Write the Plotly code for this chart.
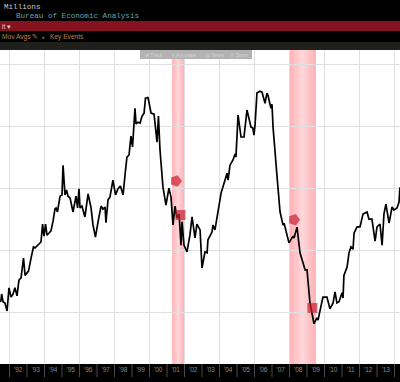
import plotly.graph_objects as go

W, H = 400, 382
TOP, BOTTOM = 50, 18

year_labels = ["'%02d" % (y % 100) for y in range(1991, 2015)]
label_years = list(range(1991, 2015))
grid_years = list(range(1992, 2016, 2))
grid_values = [10, 12, 14, 16, 18]
recessions = [(2001.29, 2001.97), (2007.97, 2009.51)]

dates = [
 1991.46,1991.51,1991.55,1991.63,1991.74,1991.86,1991.97,1992.09,1992.20,1992.31,1992.43,1992.54,1992.66,1992.80,1992.89,
 1993.00,1993.09,1993.23,1993.37,1993.46,1993.57,1993.69,1993.80,1993.89,1993.97,1994.06,1994.14,1994.26,1994.37,1994.49,
 1994.60,1994.66,1994.74,1994.89,1995.00,1995.06,1995.17,1995.26,1995.34,1995.46,1995.63,1995.80,1995.89,1995.97,1996.03,
 1996.14,1996.31,1996.49,1996.66,1996.77,1996.91,1997.06,1997.23,1997.34,1997.46,1997.51,1997.63,1997.74,1997.91,1998.06,
 1998.20,1998.34,1998.49,1998.60,1998.71,1998.83,1998.94,1999.03,1999.17,1999.23,1999.34,1999.46,1999.57,1999.69,1999.77,
 1999.86,1999.91,2000.09,2000.26,2000.43,2000.51,2000.60,2000.77,2000.94,2001.11,2001.23,2001.34,2001.46,2001.57,2001.69,
 2001.80,2001.86,2001.97,2002.14,2002.31,2002.43,2002.60,2002.71,2002.89,2003.00,2003.17,2003.29,2003.34,2003.57,2003.63,
 2003.74,2003.91,2004.09,2004.26,2004.43,2004.49,2004.60,2004.77,2004.89,2004.94,2005.06,2005.23,2005.40,2005.57,2005.80,
 2005.91,2005.97,2006.03,2006.14,2006.31,2006.43,2006.60,2006.71,2006.77,2006.94,2007.00,2007.06,2007.29,2007.46,2007.63,
 2007.69,2007.97,2008.20,2008.26,2008.43,2008.60,2008.71,2008.89,2009.00,2009.17,2009.40,2009.57,2009.63,2009.91,2010.14,
 2010.31,2010.49,2010.60,2010.71,2010.83,2011.00,2011.06,2011.11,2011.29,2011.40,2011.51,2011.63,2011.69,2011.86,2012.03,
 2012.20,2012.43,2012.54,2012.71,2012.89,2013.00,2013.17,2013.29,2013.40,2013.51,2013.69,2013.86,2013.97,2014.14,2014.26,
 2014.31,
]
sales = [
 10.35,10.38,10.60,10.35,10.31,10.05,10.80,10.50,10.60,10.80,10.54,11.05,11.12,11.76,11.20,
 11.30,11.35,11.76,12.12,12.09,12.15,12.20,12.28,12.86,12.47,12.86,12.50,12.57,12.64,12.96,
 13.35,13.38,13.25,13.76,13.80,14.76,13.80,13.96,13.76,13.70,13.25,13.76,13.38,14.00,13.38,
 13.44,13.09,13.83,13.38,12.83,12.44,12.93,13.44,13.34,13.41,12.90,13.64,13.73,14.28,13.80,
 14.00,14.09,13.80,14.44,15.02,15.09,15.70,15.35,16.60,16.09,16.15,16.12,16.34,16.44,16.93,
 16.93,16.96,16.44,16.41,15.50,16.35,15.25,14.05,13.47,14.02,13.73,12.83,13.44,13.05,13.18,
 12.18,12.93,12.18,11.96,12.50,13.09,12.41,12.86,12.67,11.44,11.96,11.93,12.35,12.60,12.83,
 12.67,13.31,13.86,14.18,14.50,14.28,14.76,14.93,15.12,15.02,16.38,15.67,15.67,16.54,15.99,
 15.96,15.73,16.05,17.09,17.15,17.12,16.76,17.09,17.02,16.60,16.73,15.99,14.38,13.25,12.83,
 12.89,12.25,12.47,12.41,12.76,11.93,11.70,11.38,11.38,10.31,9.64,9.83,9.76,10.50,10.50,
 10.12,10.31,10.67,10.31,10.35,10.64,10.47,11.20,11.47,11.93,12.12,12.05,12.57,12.77,12.77,
 13.18,13.25,13.02,13.02,12.31,12.77,12.86,12.18,13.20,13.50,12.89,13.41,13.31,13.38,13.57,
 14.05,
]
event_dates = [2001.51, 2001.77, 2008.26, 2009.31]
event_values = [14.25, 13.15, 13.00, 10.15]
event_symbols = ["pentagon", "square", "pentagon", "square"]
event_angles = [90, 0, 90, 0]
event_sizes = [12, 10, 12, 10]


def py(p):
    return (H - BOTTOM - p) / (H - TOP - BOTTOM)


def rect(x0, x1, y0, y1, color):
    return dict(type="rect", xref="paper", yref="paper", x0=x0 / W, x1=x1 / W,
                y0=py(y1), y1=py(y0), fillcolor=color, line_width=0, layer="above")


def note(x, y, text, color, size, family="Liberation Mono"):
    return dict(xref="paper", yref="paper", x=x / W, y=py(y), text=text, showarrow=False,
                xanchor="left", yanchor="middle", font=dict(family=family, size=size, color=color))


shapes = []
for a, b in recessions:
    w = b - a
    for frac, col in [(0, "#ffb4ba"), (0.1, "#ffbcc1"), (0.2, "#ffc4c8"), (0.32, "#ffcdd0"), (0.42, "#ffd5d7")]:
        shapes.append(dict(type="rect", xref="x", yref="paper", x0=a + w * frac, x1=b - w * frac,
                           y0=0, y1=1, fillcolor=col, line_width=0, layer="between"))
for y in range(1992, 2015):
    shapes.append(dict(type="line", xref="x", yref="paper", x0=y, x1=y, y0=py(364), y1=py(377),
                       line=dict(color="#4a4a4a", width=1), layer="above"))
shapes += [
    rect(0, W, 21, 31, "#85131f"),
    rect(0, W, 42, 50, "#1f1f1c"),
    rect(140, 252, 50, 59, "#b2b2b2"),
]

annotations = [
    note(2, 6.5, "Millions", "#c8c8c8", 7.6),
    note(14, 16, "Bureau of Economic Analysis", "#5fa6b0", 7.6),
    note(0, 26, "it ▾", "#e8c8c8", 6.5, "Liberation Sans"),
    note(0, 37.5, "Mov Avgs ✎", "#b8844a", 6.6, "Liberation Sans"),
    note(40, 37.5, "▪", "#777777", 7, "Liberation Sans"),
    note(48, 37.5, "Key Events", "#b8844a", 6.6, "Liberation Sans"),
    note(143, 54.5, "✥ Track", "#d4d4d4", 5, "Liberation Sans"),
    note(169, 54.5, "✎ Annotate", "#d4d4d4", 5, "Liberation Sans"),
    note(203, 54.5, "▤ News", "#d4d4d4", 5, "Liberation Sans"),
    note(228, 54.5, "⚲ Zoom", "#d4d4d4", 5, "Liberation Sans"),
]

fig = go.Figure()
fig.add_trace(go.Scatter(x=dates, y=sales, mode="lines", line=dict(color="#000000", width=1.7),
                         hoverinfo="skip", showlegend=False))
fig.add_trace(go.Scatter(x=event_dates, y=event_values, mode="markers", hoverinfo="skip", showlegend=False,
                         marker=dict(symbol=event_symbols, angle=event_angles, size=event_sizes,
                                     color="#c81f30", line=dict(width=0))))
fig.update_layout(
    width=W, height=H, margin=dict(l=0, r=0, t=TOP, b=BOTTOM, pad=0),
    paper_bgcolor="#000000", plot_bgcolor="#ffffff", showlegend=False,
    shapes=shapes, annotations=annotations,
    xaxis=dict(range=[1991.457, 2014.314], tickmode="array",
               tickvals=[y + 0.5 for y in label_years], ticktext=year_labels,
               tickfont=dict(family="Liberation Sans", size=6.5, color="#8c8c8c"),
               ticks="", ticklen=0, showgrid=False, zeroline=False, showline=False,
               minor=dict(tickmode="array", tickvals=grid_years, showgrid=True,
                          gridcolor="#dfdfdf", gridwidth=1.4, ticks="")),
    yaxis=dict(range=[8.34, 18.48], tickmode="array", tickvals=grid_values, showticklabels=False,
               showgrid=True, gridcolor="#dfdfdf", gridwidth=1.4, zeroline=False, ticks="", showline=False),
)
fig.write_html("out.html", config=dict(displayModeBar=False),
               post_script="document.body.style.margin='0';document.body.style.background='#000';")
